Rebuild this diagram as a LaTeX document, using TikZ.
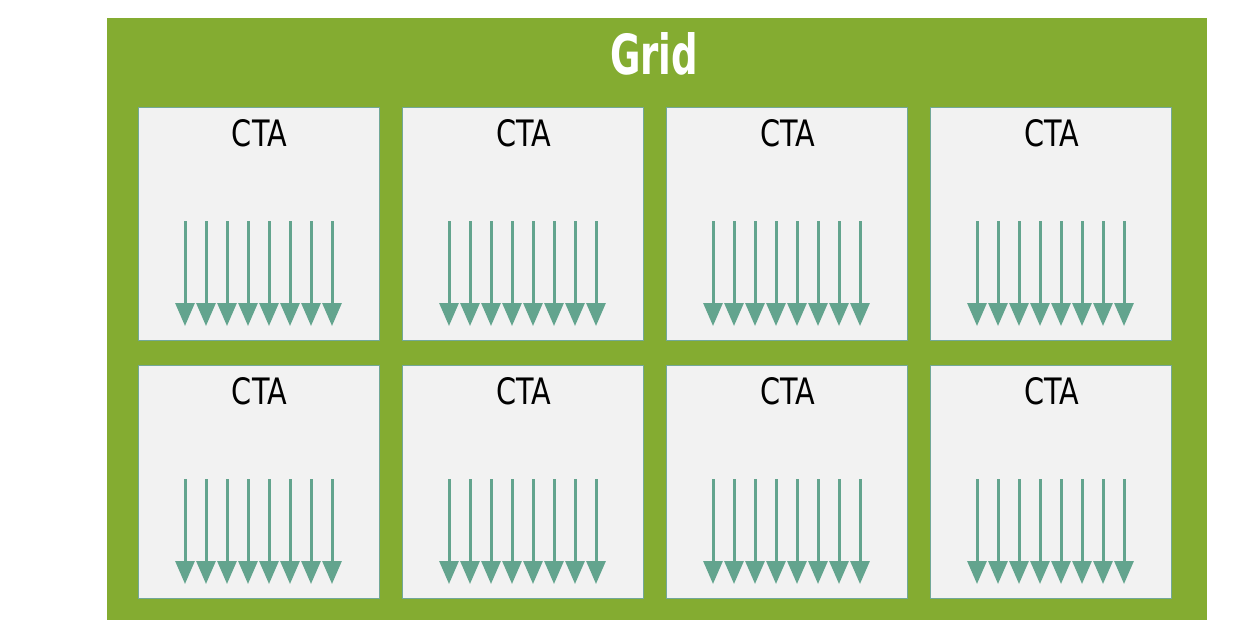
\documentclass[tikz,border=0pt]{standalone}
\usepackage{fontspec}
\setmainfont{DejaVu Sans}
\usetikzlibrary{arrows.meta,calc}
\definecolor{gridgreen}{HTML}{84AC31}
\definecolor{ctafill}{HTML}{F2F2F2}
\definecolor{ctaborder}{HTML}{72A898}
\definecolor{threadcol}{HTML}{63A48E}
\tikzset{
  gridbox/.style={fill=gridgreen, draw=none, minimum width=1100pt, minimum height=602pt, anchor=north west, inner sep=0pt},
  ctabox/.style={fill=ctafill, draw=ctaborder, line width=1.2pt, minimum width=241pt, minimum height=233pt, anchor=north west, inner sep=0pt},
  ctalabel/.style={inner sep=0pt, anchor=south, text=black},
  gridlabel/.style={inner sep=0pt, anchor=south west, text=white},
  thread/.style={draw=threadcol, line width=3pt, -{Triangle[width=19pt,length=23pt]}}
}
\begin{document}
\begin{tikzpicture}[x=1pt,y=-1pt]
\useasboundingbox (0,0) rectangle (1234,638);
\node[gridbox] (grid) at (107,18) {};
\node[gridlabel] (gridtitle) at (610,75) {\resizebox{88pt}{42pt}{\bfseries Grid}};
\foreach \r/\yy in {1/107,2/365}{
  \foreach \c/\xx in {1/138,2/402,3/666,4/930}{
    \node[ctabox] (cta\r\c) at (\xx,\yy) {};
    \node[ctalabel] (ctalab\r\c) at ($(cta\r\c.north west)+(121.5,40)$) {\resizebox{55pt}{27pt}{CTA}};
    \foreach \k in {0,...,7}{
      \coordinate (t\r\c\k s) at ($(cta\r\c.north west)+(47+21*\k,114)$);
      \coordinate (t\r\c\k e) at ($(cta\r\c.north west)+(47+21*\k,219)$);
      \draw[thread] (t\r\c\k s) -- (t\r\c\k e);
    }
  }
}
\end{tikzpicture}
\end{document}
